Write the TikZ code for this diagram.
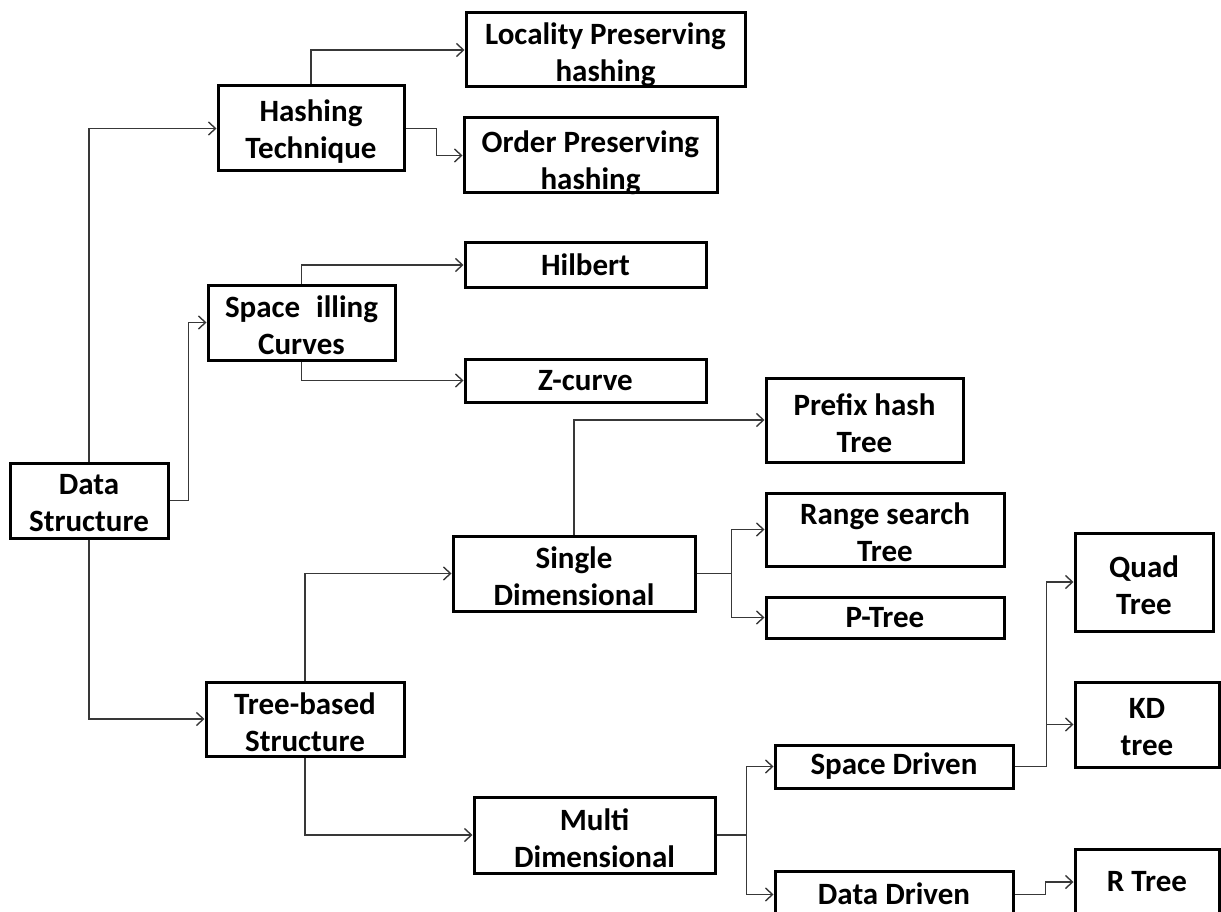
\documentclass[tikz,border=0pt]{standalone}
\usepackage{fontspec}
\setmainfont{Carlito}
\usetikzlibrary{arrows.meta}

\tikzset{
  box/.style={draw=black, line width=3pt, fill=white, rectangle, inner sep=0pt},
  boxtext/.style={inner sep=0pt, align=center,
    font=\bfseries\fontsize{31}{37}\selectfont},
  link/.style={draw=black!78, line width=1.4pt,
    -{Straight Barb[length=7pt,width=13pt,line width=1.4pt]}},
}

% place a box by its corners (pixel units, y downwards);
% optional argument: vertical offset of the text (downwards)
\newcommand{\boxat}[7][3]{%
  \node[box, minimum width={#5-#3}, minimum height={#6-#4}]
    (#2) at ({(#3+#5)/2},{(#4+#6)/2}) {};
  \node[boxtext] (#2-text) at ({(#3+#5)/2},{(#4+#6)/2+#1}) {#7};}

\begin{document}
\begin{tikzpicture}[x=1pt, y=-1pt]
  \useasboundingbox (0,0) rectangle (1221,912);

  % boxes
  \boxat{ds}{10}{463}{168}{538}{Data\\Structure}
  \boxat{hash}{218}{86}{404}{171}{Hashing\\Technique}
  \boxat[5]{lph}{466}{13}{745}{87}{Locality Preserving\\hashing}
  \boxat[7]{oph}{464}{118}{717}{193}{Order Preserving\\hashing}
  \boxat{sfc}{208}{285}{395}{360}{Space\hspace{16pt}illing\\Curves}
  \boxat[0]{hil}{465}{243}{706}{287}{Hilbert}
  \boxat[0]{zc}{465}{359}{706}{402}{Z-curve}
  \boxat{tbs}{206}{682}{404}{756}{Tree-based\\Structure}
  \boxat{sd}{453}{536}{695}{611}{Single\\Dimensional}
  \boxat{md}{474}{797}{715}{873}{Multi\\Dimensional}
  \boxat{pht}{766}{378}{963}{462}{Prefix hash\\Tree}
  \boxat{rst}{766}{493}{1004}{566}{Range search\\Tree}
  \boxat[0]{pt}{766}{597}{1004}{638}{P-Tree}
  \boxat{qt}{1075}{533}{1213}{631}{Quad\\Tree}
  \boxat{kd}{1075}{682}{1219}{767}{KD\\tree}
  \boxat[0]{spd}{775}{745}{1013}{788}{Space Driven}
  \boxat[-1]{dd}{775}{871}{1013}{918}{Data Driven}
  \boxat[0]{rt}{1075}{849}{1219}{915}{R Tree}

  % connectors
  \draw[link] (ds.north) |- (hash.west);
  \draw[link] (ds.south) |- (tbs.west);
  \draw[link] (ds.east) -- ++(19,0) |- (sfc.west);

  \draw[link] (hash.north) |- (lph.west);
  \draw[link] (hash.east) -- ++(31,0) |- (oph.west);

  \draw[link] (sfc.north) |- (hil.west);
  \draw[link] (sfc.south) |- (zc.west);

  \draw[link] (tbs.north) |- (sd.west);
  \draw[link] (tbs.south) |- (md.west);

  \draw[link] (sd.north) |- (pht.west);
  \draw[link] (sd.east) -- ++(35,0) |- (rst.west);
  \draw[link] (sd.east) -- ++(35,0) |- (pt.west);

  \draw[link] (md.east) -- ++(30,0) |- (spd.west);
  \draw[link] (md.east) -- ++(30,0) |- (dd.west);

  \draw[link] (spd.east) -- ++(32,0) |- (qt.west);
  \draw[link] (spd.east) -- ++(32,0) |- (kd.west);

  \draw[link] (dd.east) -- ++(31,0) |- (rt.west);
\end{tikzpicture}
\end{document}
